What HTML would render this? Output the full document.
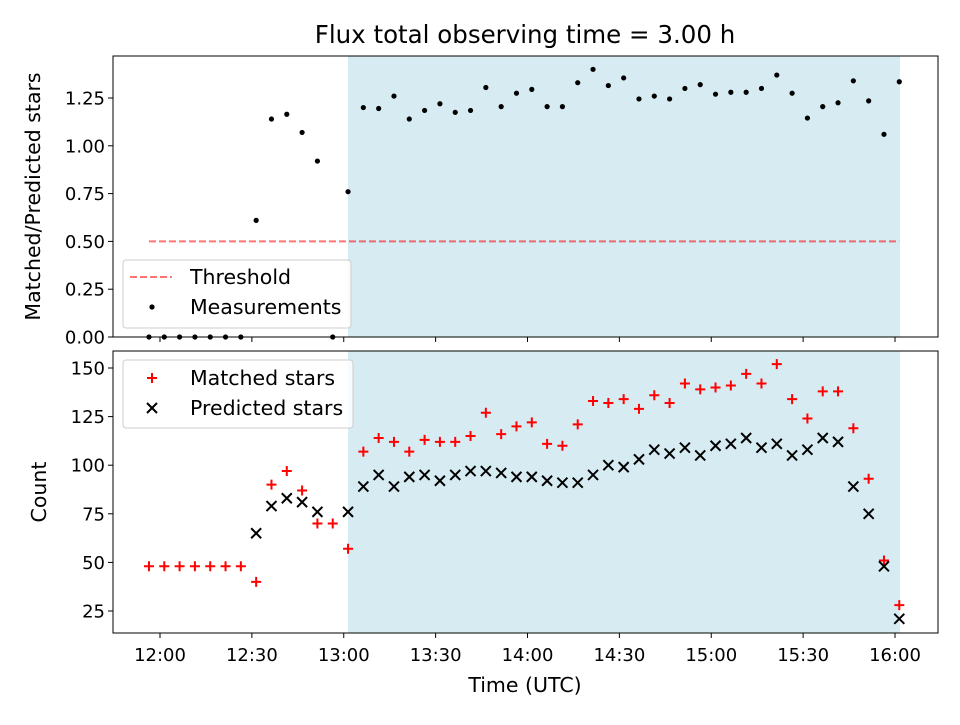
<!DOCTYPE html>
<html><head><meta charset="utf-8"><style>
body{margin:0;background:#fff;font-family:"Liberation Sans","DejaVu Sans",sans-serif;}
svg text{font-family:"DejaVu Sans","Liberation Sans",sans-serif;fill:#000;}
</style></head><body>
<svg id="chart" width="960" height="720" viewBox="0 0 960 720" xmlns="http://www.w3.org/2000/svg"></svg>
<script>
const ratioValues=[0,0,0,0,0,0,0,0.61,1.14,1.165,1.07,0.92,0,0.76,1.20,1.195,1.26,1.14,1.185,1.22,1.175,1.185,1.305,1.205,1.275,1.295,1.205,1.205,1.33,1.40,1.315,1.355,1.245,1.26,1.245,1.30,1.32,1.27,1.28,1.28,1.30,1.37,1.275,1.145,1.205,1.225,1.34,1.235,1.06,1.335];
const matchedValues=[48,48,48,48,48,48,48,40,90,97,87,70,70,57,107,114,112,107,113,112,112,115,127,116,120,122,111,110,121,133,132,134,129,136,132,142,139,140,141,147,142,152,134,124,138,138,119,93,51,28];
const predictedValues=[null,null,null,null,null,null,null,65,79,83,81,76,null,76,89,95,89,94,95,92,95,97,97,96,94,94,92,91,91,95,100,99,103,108,106,109,105,110,111,114,109,111,105,108,114,112,89,75,48,21];
const startMinute=-3.6, stepMinute=5.0;
const xTickLabels=["12:00","12:30","13:00","13:30","14:00","14:30","15:00","15:30","16:00"];
const xTickMinutes=[0,30,60,90,120,150,180,210,240];
const topTicks=[0,0.25,0.5,0.75,1.0,1.25];
const botTicks=[25,50,75,100,125,150];
const shadeRange=[61.4,241.6];
const threshold=0.5;

const NS="http://www.w3.org/2000/svg";
const svg=document.getElementById('chart');
function mk(tag,attrs,parent){const e=document.createElementNS(NS,tag);for(const k in attrs)e.setAttribute(k,attrs[k]);(parent||svg).appendChild(e);return e;}
const L=113,R=938;
const xs=m=>160+m*3.0625;
const yTop=v=>337-v*191.2;
const yBot=v=>611-(v-25)*1.944;
const T1=56,B1=337,T2=351,B2=633;
const TF=18, LF=20.5;

let t=mk('text',{x:525,y:43,'font-size':24.5,'text-anchor':'middle'});t.textContent="Flux total observing time = 3.00 h";



function panel(top,bot,name){
  const g=mk('g',{});
  
  
  const s=mk('rect',{x:xs(shadeRange[0]),y:top,width:xs(shadeRange[1])-xs(shadeRange[0]),height:bot-top,fill:'#add8e6','fill-opacity':0.5},g);
  
  
  return g;
}
function frame(g,top,bot){mk('rect',{x:L,y:top,width:R-L,height:bot-top,fill:'none',stroke:'#000','stroke-width':1},g);}
function xticks(g,bot,labels){
  xTickMinutes.forEach((m,i)=>{
    const x=xs(m);mk('line',{x1:x,x2:x,y1:bot,y2:bot+5,stroke:'#000'},g);
    if(labels){const tx=mk('text',{x:x,y:bot+28,'font-size':TF,'text-anchor':'middle'},g);tx.textContent=xTickLabels[i];
      
      }
  });
}
const g1=panel(T1,B1,'ratio-panel');
const th=mk('line',{x1:xs(startMinute),x2:xs(startMinute+stepMinute*(ratioValues.length-1)),y1:yTop(threshold),y2:yTop(threshold),stroke:'#ff0000','stroke-opacity':0.55,'stroke-width':2,'stroke-dasharray':'7,3'},g1);


ratioValues.forEach((v,i)=>{
  const c=mk('circle',{cx:xs(startMinute+i*stepMinute),cy:yTop(v),r:2.6,fill:'#000'},g1);
  
  
});
topTicks.forEach(v=>{const y=yTop(v);mk('line',{x1:L-5,x2:L,y1:y,y2:y,stroke:'#000'},g1);
  const tx=mk('text',{x:L-8,y:y+6.5,'font-size':TF,'text-anchor':'end'},g1);tx.textContent=v.toFixed(2);
  
  });
xticks(g1,B1,false);
frame(g1,T1,B1);
t=mk('text',{x:0,y:0,'font-size':LF,'text-anchor':'middle',transform:`translate(40,${(T1+B1)/2}) rotate(-90)`});t.textContent="Matched/Predicted stars";


const lg1=mk('g',{});


mk('rect',{x:123,y:260,width:228,height:68,rx:3,fill:'#fff','fill-opacity':0.8,stroke:'#ccc'},lg1);
mk('line',{x1:130,x2:172,y1:277,y2:277,stroke:'#ff0000','stroke-opacity':0.55,'stroke-width':2,'stroke-dasharray':'7,3'},lg1);
t=mk('text',{x:190,y:284,'font-size':LF},lg1);t.textContent="Threshold";
mk('circle',{cx:152,cy:307,r:2.6,fill:'#000'},lg1);
t=mk('text',{x:190,y:314,'font-size':LF},lg1);t.textContent="Measurements";

const g2=panel(T2,B2,'count-panel');
function plus(x,y,g){return mk('path',{d:`M${x-5},${y}H${x+5}M${x},${y-5}V${y+5}`,stroke:'#ff0000','stroke-width':2},g);}
function cross(x,y,g){return mk('path',{d:`M${x-5},${y-5}L${x+5},${y+5}M${x-5},${y+5}L${x+5},${y-5}`,stroke:'#000','stroke-width':2},g);}
matchedValues.forEach((v,i)=>{if(v==null)return;const p=plus(xs(startMinute+i*stepMinute),yBot(v),g2);
  
  });
predictedValues.forEach((v,i)=>{if(v==null)return;const p=cross(xs(startMinute+i*stepMinute),yBot(v),g2);
  
  });
botTicks.forEach(v=>{const y=yBot(v);mk('line',{x1:L-5,x2:L,y1:y,y2:y,stroke:'#000'},g2);
  const tx=mk('text',{x:L-8,y:y+6.5,'font-size':TF,'text-anchor':'end'},g2);tx.textContent=v;
  
  });
xticks(g2,B2,true);
frame(g2,T2,B2);
t=mk('text',{x:0,y:0,'font-size':LF,'text-anchor':'middle',transform:`translate(46,${(T2+B2)/2}) rotate(-90)`});t.textContent="Count";


t=mk('text',{x:525,y:692,'font-size':LF,'text-anchor':'middle'});t.textContent="Time (UTC)";


const lg2=mk('g',{});


mk('rect',{x:123,y:360,width:230,height:68,rx:3,fill:'#fff','fill-opacity':0.8,stroke:'#ccc'},lg2);
plus(152,378,lg2);
t=mk('text',{x:190,y:385,'font-size':LF},lg2);t.textContent="Matched stars";
cross(152,408,lg2);
t=mk('text',{x:190,y:415,'font-size':LF},lg2);t.textContent="Predicted stars";
</script>
</body></html>
